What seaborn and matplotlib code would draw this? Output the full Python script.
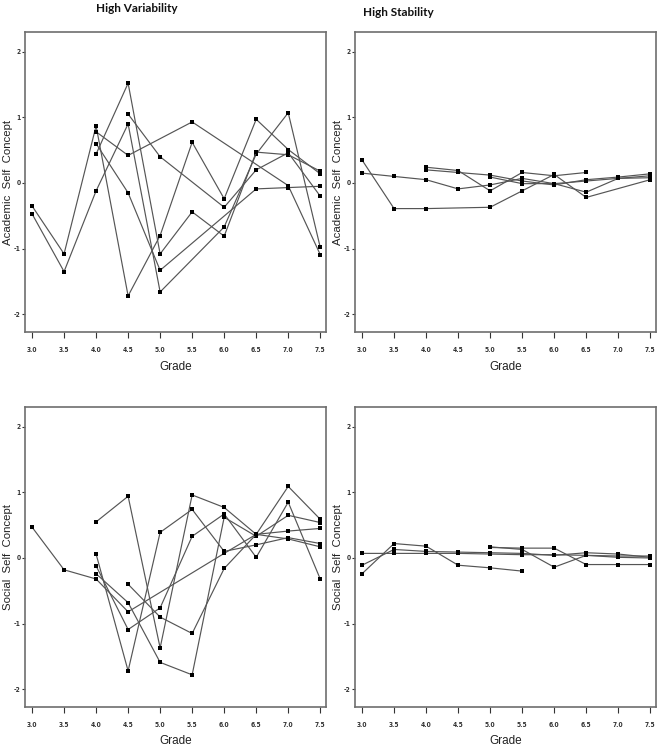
import numpy as np
import pandas as pd
import matplotlib
matplotlib.use("Agg")
import matplotlib.pyplot as plt
import seaborn as sns

nan = np.nan

grades = [3.0, 3.5, 4.0, 4.5, 5.0, 5.5, 6.0, 6.5, 7.0, 7.5]

# academic self concept, high variability group (one list per child, nan = not observed)
acad_var = [
    [-0.35, -1.08, 0.87, -1.72, -0.80, 0.62, -0.24, 0.97, 0.51, 0.14],
    [-0.47, -1.35, -0.12, 0.90, -1.66, nan, -0.67, 0.44, 1.07, -0.98],
    [nan, nan, 0.78, 0.42, nan, 0.93, nan, nan, -0.04, -1.09],
    [nan, nan, 0.44, 1.52, -1.08, -0.44, -0.81, 0.47, 0.43, 0.18],
    [nan, nan, 0.60, -0.15, -1.33, nan, nan, -0.09, -0.07, -0.05],
    [nan, nan, nan, 1.05, 0.40, nan, -0.37, 0.20, 0.46, -0.20],
]

# academic self concept, high stability group
acad_stab = [
    [0.35, -0.39, -0.39, nan, -0.37, -0.12, 0.13, -0.22, nan, 0.05],
    [0.15, 0.10, 0.05, -0.09, -0.03, 0.07, -0.01, 0.03, 0.07, 0.11],
    [nan, nan, 0.24, 0.19, -0.12, 0.16, 0.11, 0.16, nan, nan],
    [nan, nan, 0.20, 0.16, 0.12, 0.03, -0.03, 0.05, 0.09, 0.14],
    [nan, nan, nan, nan, 0.09, -0.01, -0.01, -0.14, 0.07, 0.08],
]

# social self concept, high variability group
soc_var = [
    [0.47, -0.18, -0.32, -0.82, nan, nan, 0.07, 0.36, 0.41, 0.45],
    [nan, nan, 0.55, 0.94, -1.37, 0.96, 0.77, 0.36, 0.29, 0.17],
    [nan, nan, 0.06, -1.72, 0.39, 0.74, 0.10, 0.20, 0.31, 0.22],
    [nan, nan, -0.12, -1.09, -0.76, 0.33, 0.67, 0.01, 0.85, -0.32],
    [nan, nan, -0.24, -0.68, -1.59, -1.78, 0.62, 0.33, 0.65, 0.54],
    [nan, nan, nan, -0.40, -0.90, -1.15, -0.16, 0.36, 1.09, 0.59],
]

# social self concept, high stability group
soc_stab = [
    [0.07, 0.07, 0.07, 0.07, 0.06, 0.05, 0.05, 0.04, 0.03, 0.03],
    [-0.24, 0.22, 0.18, -0.11, -0.15, -0.20, nan, nan, nan, nan],
    [-0.11, 0.13, 0.10, 0.09, 0.08, 0.07, 0.04, 0.08, 0.06, 0.01],
    [nan, nan, nan, nan, 0.16, 0.15, 0.15, -0.10, -0.10, -0.10],
    [nan, nan, nan, nan, 0.17, 0.13, -0.14, 0.04, 0.01, 0.00],
]

panels = [
    (acad_var, "Academic  Self  Concept"),
    (acad_stab, "Academic  Self  Concept"),
    (soc_var, "Social  Self  Concept"),
    (soc_stab, "Social  Self  Concept"),
]


def to_long(series):
    rows = []
    for i, vals in enumerate(series):
        for g, v in zip(grades, vals):
            if not np.isnan(v):
                rows.append({"child": i, "grade": g, "score": v})
    return pd.DataFrame(rows)


sns.set_style("white")
plt.rcParams["font.family"] = ["Liberation Sans", "DejaVu Sans"]

fig = plt.figure(figsize=(6.58, 7.5), dpi=100)
W, H = 658, 750
boxes = [(25, 32), (355, 32), (25, 407), (355, 407)]

for (data, ylab), (px, py) in zip(panels, boxes):
    ax = fig.add_axes([px / W, 1 - (py + 300) / H, 301 / W, 300 / H])
    df = to_long(data)
    sns.lineplot(data=df, x="grade", y="score", units="child", estimator=None,
                 sort=True, color="#555555", linewidth=0.85, marker="s",
                 markersize=2.3, markeredgewidth=0, markerfacecolor="black",
                 ax=ax, legend=False)
    ax.set_xlim(2.89, 7.59)
    ax.set_ylim(-2.27, 2.3)
    ax.set_xticks(grades)
    ax.set_xticklabels([f"{g:.1f}" for g in grades])
    ax.set_yticks([-2, -1, 0, 1, 2])
    ax.set_yticklabels(["-2", "-1", "0", "1", "2"])
    for lab in ax.get_xticklabels() + ax.get_yticklabels():
        lab.set_family("DejaVu Sans")
        lab.set_fontweight("bold")
        lab.set_fontstretch("condensed")
        lab.set_fontsize(4.8)
    ax.tick_params(axis="x", direction="out", length=4, width=0.8, pad=6.5,
                   colors="#333333", bottom=True)
    ax.tick_params(axis="y", direction="out", length=2.5, width=0.8, pad=0.8,
                   colors="#333333", left=True)
    for s in ax.spines.values():
        s.set_color("#6e6e6e")
        s.set_linewidth(1.2)
    ax.set_ylabel(ylab, fontsize=8.2, color="#222222")
    ax.yaxis.set_label_coords(-0.04, 0.5)
    ax.set_xlabel("Grade", fontsize=8.5, color="#222222")
    ax.xaxis.set_label_coords(0.5, -0.095)

fig.text(137 / W, 1 - 9 / H, "High Variability", ha="center", va="center",
         fontsize=8.5, fontweight="bold", family="Lato", color="#111111")
fig.text(398 / W, 1 - 12 / H, "High Stability", ha="center", va="center",
         fontsize=8.5, fontweight="bold", family="Lato", color="#111111")

fig.savefig("out.png", dpi=100)
plt.close(fig)
